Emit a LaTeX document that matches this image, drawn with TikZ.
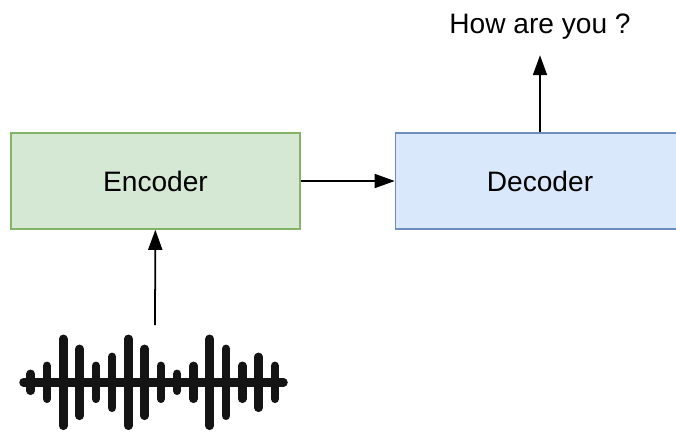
\documentclass[tikz,border=0pt]{standalone}
\usepackage{fontspec}
\setmainfont{Liberation Sans}
\usepackage{tikz}
\usetikzlibrary{arrows.meta,positioning,calc}
\usepackage{xcolor}
\definecolor{encfill}{HTML}{D5E8D4}
\definecolor{encdraw}{HTML}{82B366}
\definecolor{decfill}{HTML}{DAE8FC}
\definecolor{decdraw}{HTML}{6C8EBF}

\begin{document}
\begin{tikzpicture}[
    block/.style={rectangle,minimum width=5.78cm,minimum height=1.92cm,text centered,line width=0.9pt,font=\fontsize{16}{19}\selectfont},
    encbox/.style={block,draw=encdraw,fill=encfill},
    decbox/.style={block,draw=decdraw,fill=decfill},
    label/.style={font=\fontsize{16}{19}\selectfont,inner xsep=2pt,inner ysep=0.32cm},
    arrow/.style={-{Triangle[length=0.4cm,width=0.28cm]},line width=1pt},
    wave/.style={line width=0.17cm,line cap=round,color=black!92}
]
\useasboundingbox (0,0) rectangle (13.52,-8.62);

% Encoder
\node[encbox] (encoder) at (3.11,-3.62) {Encoder};

% Decoder
\node[decbox] (decoder) at (10.8,-3.62) {Decoder};

% Output text
\node[label,anchor=base] (output) at (10.8,-0.66) {How are you ?};

% Audio input
\coordinate (wave) at (3.1,-6.5);
\draw[wave] (0.47,-7.646) -- (5.67,-7.646);
\foreach \h [count=\i from 0] in {0.17,0.33,0.87,0.67,0.33,0.51,0.87,0.67,0.33,0.17,0.33,0.87,0.67,0.33,0.51,0.33}
  \draw[wave] ({0.614+0.3255*\i},{-7.646+\h}) -- ({0.614+0.3255*\i},{-7.646-\h});

% Arrows
\draw[arrow] (wave) -- (encoder);
\draw[arrow] (encoder) -- (decoder);
\draw[arrow] (decoder) -- (output);
\end{tikzpicture}
\end{document}
